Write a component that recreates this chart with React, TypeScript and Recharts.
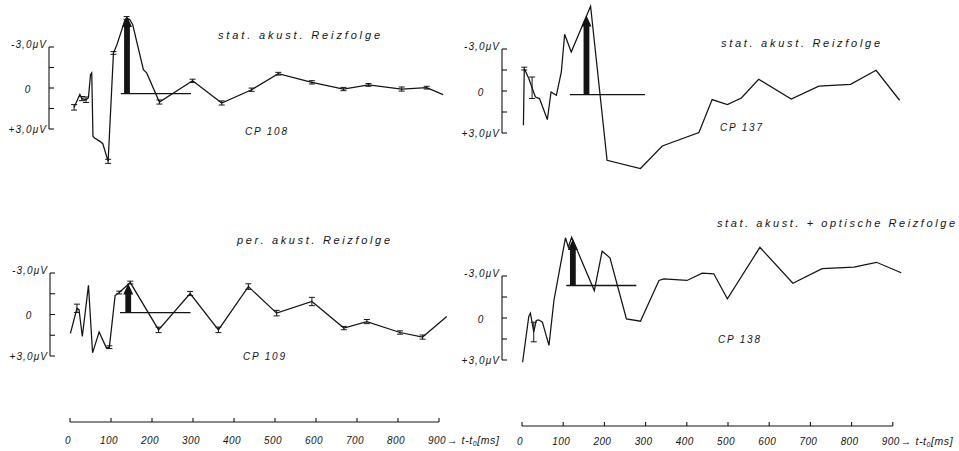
import React from 'react';
import { LineChart, Line, XAxis, YAxis, ReferenceLine, ErrorBar } from 'recharts';

// ---------- data (time in ms, potential in µV; negative = up) ----------
const p1Time = [10, 24, 29, 39, 45, 50, 53, 56, 60, 73, 80, 93, 106, 110, 114, 134, 138, 146, 153, 179, 187, 218, 299, 370, 443, 508, 590, 667, 728, 809, 870, 910];
const p1Volt = [1.44, 0.5, 0.8, 0.88, 0.73, -0.95, -1.08, 3.56, 3.68, 3.93, 4.1, 5.39, -2.54, -2.83, -3.1, -4.95, -5.1, -4.98, -4.6, -1.32, -1.08, 1.05, -0.5, 1.12, 0.15, -1.02, -0.39, 0.1, -0.2, 0.1, 0.0, 0.51];
const p1Err = [0.2, 0, 0.15, 0.2, 0, 0, 0, 0, 0, 0, 0, 0.15, 0.1, 0, 0, 0, 0.1, 0, 0, 0, 0, 0.15, 0.12, 0.15, 0.12, 0.1, 0.12, 0.12, 0.1, 0.15, 0.1, 0];

const p2Time = [3, 5, 16, 24, 32, 42, 61, 70, 83, 95, 103, 119, 166, 206, 287, 340, 429, 461, 498, 532, 574, 653, 720, 797, 859, 916];
const p2Volt = [2.45, -1.6, -0.89, -0.23, 0.43, 0.54, 2.04, 0.07, 0.31, -1.36, -4.05, -2.79, -6.05, 4.95, 5.54, 3.93, 2.97, 0.61, 0.97, 0.5, -0.84, 0.57, -0.34, -0.48, -1.48, 0.66];
const p2Err = [0, 0.1, 0, 0.77, 0, 0, 0, 0, 0, 0, 0, 0, 0, 0, 0, 0, 0, 0, 0, 0, 0, 0, 0, 0, 0, 0];

const p3Time = [1, 17, 22, 30, 45, 55, 71, 89, 96, 110, 120, 147, 216, 293, 362, 435, 504, 590, 668, 724, 805, 860, 919];
const p3Volt = [1.41, -0.4, -0.3, 1.64, -2.06, 2.82, 1.32, 2.48, 2.41, -1.32, -1.54, -2.26, 1.16, -1.47, 1.16, -1.97, -0.05, -0.89, 1.03, 0.56, 1.35, 1.68, 0.2];
const p3Err = [0, 0.3, 0, 0, 0, 0, 0, 0, 0.1, 0, 0.1, 0.1, 0.2, 0.15, 0.2, 0.2, 0.2, 0.3, 0.12, 0.15, 0.12, 0.15, 0];

const p4Time = [1, 16, 20, 28, 34, 40, 49, 65, 77, 105, 112, 120, 175, 194, 213, 253, 287, 332, 344, 400, 437, 465, 498, 577, 657, 728, 805, 860, 920];
const p4Volt = [3.16, -0.11, -0.34, 1.0, 0.18, 0.13, 0.3, 1.96, -1.25, -5.73, -5.06, -5.77, -1.96, -4.77, -4.3, 0.06, 0.23, -2.68, -2.8, -2.68, -3.2, -3.16, -1.37, -5.05, -2.48, -3.53, -3.63, -3.98, -3.23];
const p4Err = [0, 0, 0, 0.7, 0, 0, 0, 0, 0, 0, 0, 0, 0, 0, 0, 0, 0, 0, 0, 0, 0, 0, 0, 0, 0, 0, 0, 0, 0];

// stimulus arrows: [time, base level, tip level]; baselines: [from, to]
const arrowTimes = [139, 156, 142, 123];
const arrowBases = [0.44, 0.26, -0.09, -2.32];
const arrowTips = [-5.25, -5.4, -2.2, -5.65];
const baseFrom = [124, 116, 122, 107];
const baseTo = [295, 298, 294, 277];

const titles = ['stat. akust. Reizfolge', 'stat. akust. Reizfolge', 'per. akust. Reizfolge', 'stat. akust. + optische Reizfolge'];
const subjects = ['CP 108', 'CP 137', 'CP 109', 'CP 138'];

const timeTicks = [0, 100, 200, 300, 400, 500, 600, 700, 800, 900];
const voltTicks = [-3, -1.5, 0, 1.5, 3];
const voltLabels: Record<string, string> = { '-3': '-3,0μV', '0': '0', '3': '+3,0μV' };

const FONT = '"Liberation Sans", Arial, sans-serif';
const INK = '#141414';

// ---------- layout ----------
const panels = [
  { time: p1Time, volt: p1Volt, err: p1Err, x0: 70, p100: 41, zeroY: 88, p3: 41, bx: 49 },
  { time: p2Time, volt: p2Volt, err: p2Err, x0: 521.7, p100: 41.2, zeroY: 90.7, p3: 42, bx: 501.7 },
  { time: p3Time, volt: p3Volt, err: p3Err, x0: 70, p100: 41, zeroY: 314, p3: 41.5, bx: 50 },
  { time: p4Time, volt: p4Volt, err: p4Err, x0: 521.7, p100: 41.2, zeroY: 317.5, p3: 42, bx: 501.7 },
];
const titlePos = [
  { x: 218, y: 39, w: 162 },
  { x: 721, y: 46.5, w: 159 },
  { x: 237, y: 244, w: 153 },
  { x: 717, y: 227, w: 238 },
];
const subjPos = [
  { x: 245, y: 134.5 },
  { x: 720, y: 130.5 },
  { x: 243, y: 359.5 },
  { x: 718, y: 342.5 },
];
const axes = [
  { x0: 70, p100: 41, axisY: 421.7, labelDy: 21.5 },
  { x0: 521.7, p100: 41.2, axisY: 426, labelDy: 19.5 },
];

const ArrowShape = (props: any) => {
  const { x1, y1, x2, y2 } = props;
  if ([x1, y1, x2, y2].some((v) => typeof v !== 'number' || isNaN(v))) return <g />;
  const len = Math.abs(y1 - y2);
  const head = Math.min(11, len * 0.45);
  const yHead = y2 + head;
  const sw = 2.9;
  const hw = 5;
  const d = `M${x1 - sw},${y1} L${x1 - sw},${yHead} L${x1 - hw},${yHead} L${x2},${y2} L${x1 + hw},${yHead} L${x1 + sw},${yHead} L${x1 + sw},${y1} Z`;
  return <path d={d} fill={INK} />;
};

const BracketTick = (props: any) => {
  const { x, y, payload } = props;
  const v = payload.value;
  const label = voltLabels[String(v)] || '';
  const isZero = v === 0;
  return (
    <g>
      <line x1={x} x2={x + 5} y1={y} y2={y} stroke={INK} strokeWidth={1.1} />
      {label && (
        <text
          x={isZero ? x - 21 : x - 2}
          y={v === -3 ? y + 0.5 : v === 3 ? y + 3.5 : y + 4.5}
          textAnchor={isZero ? 'middle' : 'end'}
          fontFamily={FONT}
          fontStyle="italic"
          fontSize={10}
          letterSpacing={1.1}
          fill={INK}
        >
          {label}
        </text>
      )}
    </g>
  );
};

const makeTimeTick = (labelDy: number) => (props: any) => {
  const { x, y, payload } = props;
  const v = payload.value;
  return (
    <g>
      <line x1={x} x2={x} y1={y} y2={y - 4} stroke={INK} strokeWidth={1.1} />
      <text x={x - 2} y={y + labelDy} textAnchor="middle" fontFamily={FONT} fontStyle="italic" fontSize={10} letterSpacing={0.4} fill={INK}>
        {String(v)}
      </text>
      {v === 900 && (
        <text x={x + 8} y={y + labelDy} textAnchor="start" fontFamily={FONT} fontStyle="italic" fontSize={10.5} letterSpacing={0.6} fill={INK}>
          {'→ t-t'}
          <tspan fontSize={7} dy={2}>
            0
          </tspan>
          <tspan dy={-2}>[ms]</tspan>
        </text>
      )}
    </g>
  );
};

function Panel({ idx }: { idx: number }) {
  const p = panels[idx];
  const data = p.time.map((t, i) => ({ t, v: p.volt[i], e: p.err[i] }));
  const left = p.x0 - p.p100;
  const width = 11 * p.p100;
  const top = p.zeroY - (7 / 3) * p.p3;
  const height = (14 / 3) * p.p3;
  return (
    <div style={{ position: 'absolute', left, top }}>
      <LineChart width={width} height={height} data={data} margin={{ top: 0, right: 0, bottom: 0, left: 0 }}>
        <XAxis dataKey="t" type="number" domain={[-100, 1000]} hide />
        <YAxis type="number" domain={[-7, 7]} reversed hide />
        <ReferenceLine
          segment={[
            { x: baseFrom[idx], y: arrowBases[idx] },
            { x: baseTo[idx], y: arrowBases[idx] },
          ]}
          stroke={INK}
          strokeWidth={1.3}
        />
        <ReferenceLine
          segment={[
            { x: arrowTimes[idx], y: arrowBases[idx] },
            { x: arrowTimes[idx], y: arrowTips[idx] },
          ]}
          shape={ArrowShape}
        />
        <Line dataKey="v" type="linear" stroke={INK} strokeWidth={1.25} dot={false} isAnimationActive={false}>
          <ErrorBar dataKey="e" width={3} stroke={INK} strokeWidth={1} direction="y" />
        </Line>
      </LineChart>
    </div>
  );
}

function Bracket({ idx }: { idx: number }) {
  const p = panels[idx];
  const AXW = 60;
  const M = 8;
  return (
    <div style={{ position: 'absolute', left: p.bx - AXW, top: p.zeroY - p.p3 - M }}>
      <LineChart width={AXW + 10} height={2 * p.p3 + 2 * M} data={[]} margin={{ top: M, right: 0, bottom: M, left: 0 }}>
        <XAxis type="number" domain={[0, 1]} hide />
        <YAxis
          type="number"
          domain={[-3, 3]}
          reversed
          allowDataOverflow
          ticks={voltTicks}
          interval={0}
          width={AXW}
          tickSize={0}
          tickMargin={0}
          tickLine={false}
          axisLine={{ stroke: INK, strokeWidth: 1.1 }}
          tick={BracketTick}
        />
      </LineChart>
    </div>
  );
}

function TimeAxis({ idx }: { idx: number }) {
  const a = axes[idx];
  const ML = 10;
  const MR = 110;
  const w = 9 * a.p100;
  const TOP = 10;
  const tickData = timeTicks.map((t) => ({ t }));
  return (
    <div style={{ position: 'absolute', left: a.x0 - ML, top: a.axisY - TOP - 1 }}>
      <LineChart width={w + ML + MR} height={TOP + 1 + 30} data={tickData} margin={{ top: TOP, right: MR, bottom: 0, left: ML }}>
        <XAxis
          dataKey="t"
          type="number"
          domain={[0, 900]}
          allowDataOverflow
          ticks={timeTicks}
          interval={0}
          height={30}
          tickSize={0}
          tickMargin={0}
          tickLine={false}
          axisLine={{ stroke: INK, strokeWidth: 1.1 }}
          tick={makeTimeTick(a.labelDy)}
        />
        <YAxis type="number" domain={[0, 1]} hide />
      </LineChart>
    </div>
  );
}

export default function App() {
  return (
    <div style={{ position: 'absolute', left: 0, top: 0, width: 959, height: 451, background: '#fff', overflow: 'hidden' }}>
      {[0, 1, 2, 3].map((i) => (
        <Panel key={'p' + i} idx={i} />
      ))}
      {[0, 1, 2, 3].map((i) => (
        <Bracket key={'b' + i} idx={i} />
      ))}
      {[0, 1].map((i) => (
        <TimeAxis key={'a' + i} idx={i} />
      ))}
      <svg width={959} height={451} style={{ position: 'absolute', left: 0, top: 0, pointerEvents: 'none' }}>
        {titles.map((t, i) => (
          <text
            key={'t' + i}
            x={titlePos[i].x}
            y={titlePos[i].y}
            textLength={titlePos[i].w}
            lengthAdjust="spacing"
            fontFamily={FONT}
            fontStyle="italic"
            fontSize={11}
            fill={INK}
          >
            {t}
          </text>
        ))}
        {subjects.map((s, i) => (
          <text
            key={'s' + i}
            x={subjPos[i].x}
            y={subjPos[i].y}
            textLength={42}
            lengthAdjust="spacing"
            fontFamily={FONT}
            fontStyle="italic"
            fontSize={10}
            fill={INK}
          >
            {s}
          </text>
        ))}
      </svg>
    </div>
  );
}
